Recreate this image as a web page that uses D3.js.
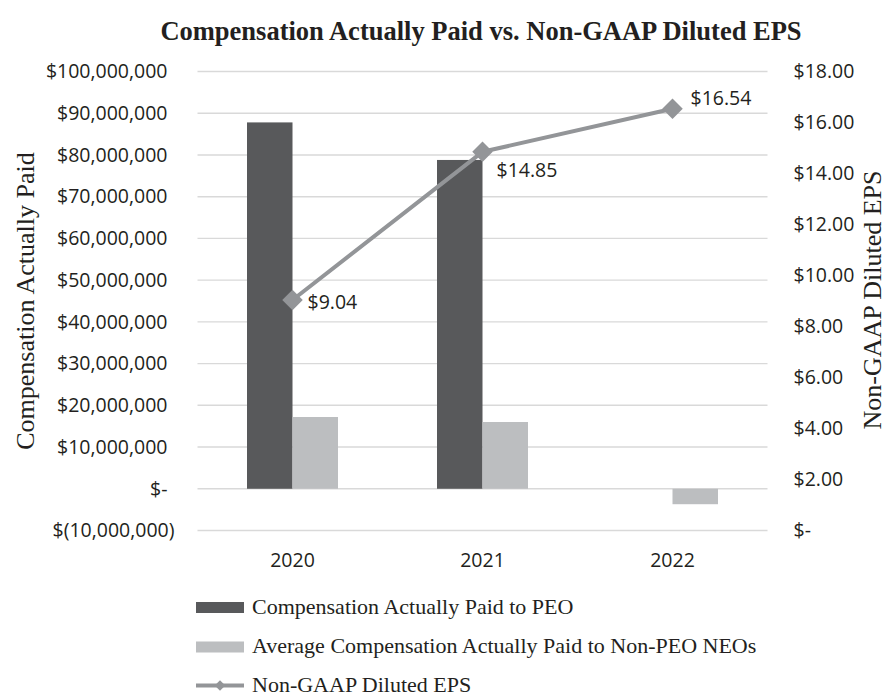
<!DOCTYPE html>
<html>
<head>
<meta charset="utf-8">
<script src="https://cdn.jsdelivr.net/npm/d3@7"></script>
<style>
  html, body { margin: 0; padding: 0; background: #ffffff; }
  svg { display: block; }
</style>
</head>
<body>
<svg id="chart" width="891" height="696"></svg>
<script>
// Fiscal years shown on the category axis
const years = ["2020", "2021", "2022"];
// Compensation actually paid (USD)
const peoPaid = [87800000, 78800000, null];
const neoPaid = [17200000, 16000000, -3700000];
// Non-GAAP diluted EPS (USD)
const eps = [9.04, 14.85, 16.54];
// Axis ticks
const leftTicks = [-10000000, 0, 10000000, 20000000, 30000000, 40000000, 50000000,
                   60000000, 70000000, 80000000, 90000000, 100000000];
const rightTicks = [0, 2, 4, 6, 8, 10, 12, 14, 16, 18];
// Series names for the legend
const seriesNames = ["Compensation Actually Paid to PEO",
                     "Average Compensation Actually Paid to Non-PEO NEOs",
                     "Non-GAAP Diluted EPS"];

const COL_PEO = "#58595b";
const COL_NEO = "#bcbec0";
const COL_EPS = "#939598";
const COL_TEXT = "#231f20";
const COL_GRID = "#d9d9d9";
const TICK_FONT = "'Open Sans', sans-serif";
const SERIF = "'Liberation Serif', 'Times New Roman', serif";

const svg = d3.select("#chart");

const plot = { left: 197.5, right: 767.5, top: 71.5, bottom: 530.5 };

const x = d3.scaleBand().domain(years).range([plot.left, plot.right]).padding(0);
const xSub = d3.scaleBand().domain(["peo", "neo"]).range([-45.5, 45.5]).padding(0);
const yL = d3.scaleLinear().domain([-10000000, 100000000]).range([plot.bottom, plot.top]);
const yR = d3.scaleLinear().domain([0, 18]).range([plot.bottom, plot.top]);

// Title
svg.append("text")
  .attr("x", 481).attr("y", 40)
  .attr("text-anchor", "middle")
  .attr("font-family", SERIF)
  .attr("font-weight", "bold")
  .attr("font-size", 26.5)
  .attr("fill", COL_TEXT)
  .text("Compensation Actually Paid vs. Non-GAAP Diluted EPS");

// Horizontal gridlines on the primary axis
svg.append("g")
  .selectAll("line")
  .data(leftTicks)
  .join("line")
  .attr("x1", plot.left).attr("x2", plot.right)
  .attr("y1", d => yL(d)).attr("y2", d => yL(d))
  .attr("stroke", COL_GRID)
  .attr("stroke-width", 1.4);

// Left axis (accounting style labels)
const fmtLeft = d => {
  if (d === 0) return "$-";
  const s = d3.format(",")(Math.abs(d));
  return d < 0 ? "$(" + s + ")" : "$" + s;
};
const gL = svg.append("g")
  .attr("transform", `translate(${plot.left},0)`)
  .call(d3.axisLeft(yL).tickValues(leftTicks).tickSize(0).tickPadding(30).tickFormat(fmtLeft));
gL.select(".domain").remove();
gL.selectAll("text")
  .attr("font-family", TICK_FONT)
  .attr("font-size", 19.5)
  .attr("fill", COL_TEXT)
  .attr("dx", d => d < 0 ? 7 : 0);

// Right axis
const fmtRight = d => d === 0 ? "$-" : "$" + d3.format(".2f")(d);
const gR = svg.append("g")
  .attr("transform", `translate(${plot.right},0)`)
  .call(d3.axisRight(yR).tickValues(rightTicks).tickSize(0).tickPadding(26).tickFormat(fmtRight));
gR.select(".domain").remove();
gR.selectAll("text")
  .attr("font-family", TICK_FONT)
  .attr("font-size", 19.5)
  .attr("fill", COL_TEXT);

// Category labels
svg.append("g")
  .selectAll("text")
  .data(years)
  .join("text")
  .attr("x", d => x(d) + x.bandwidth() / 2)
  .attr("y", 567)
  .attr("text-anchor", "middle")
  .attr("font-family", TICK_FONT)
  .attr("font-size", 19.5)
  .attr("fill", COL_TEXT)
  .text(d => d);

// Bars
const barData = [];
years.forEach((yr, i) => {
  if (peoPaid[i] !== null) barData.push({ yr, key: "peo", v: peoPaid[i] });
  if (neoPaid[i] !== null) barData.push({ yr, key: "neo", v: neoPaid[i] });
});
svg.append("g")
  .selectAll("rect")
  .data(barData)
  .join("rect")
  .attr("x", d => x(d.yr) + x.bandwidth() / 2 + xSub(d.key))
  .attr("width", xSub.bandwidth())
  .attr("y", d => Math.min(yL(d.v), yL(0)))
  .attr("height", d => Math.abs(yL(d.v) - yL(0)))
  .attr("fill", d => d.key === "peo" ? COL_PEO : COL_NEO);

// EPS line
const cx = (d, i) => x(years[i]) + x.bandwidth() / 2;
const linePts = eps.map((v, i) => [cx(v, i), yR(v)]);
svg.append("path")
  .attr("d", d3.line()(linePts))
  .attr("fill", "none")
  .attr("stroke", COL_EPS)
  .attr("stroke-width", 4)
  .attr("stroke-linejoin", "round");

const diamond = d3.symbol().type(d3.symbolSquare).size(210);
svg.append("g")
  .selectAll("path")
  .data(eps)
  .join("path")
  .attr("d", diamond)
  .attr("transform", (d, i) => `translate(${cx(d, i)},${yR(d)}) rotate(45)`)
  .attr("fill", COL_EPS);

// EPS value labels
const labelOffsets = [[15, 9], [14, 25], [18, -4]];
svg.append("g")
  .selectAll("text")
  .data(eps)
  .join("text")
  .attr("x", (d, i) => cx(d, i) + labelOffsets[i][0])
  .attr("y", (d, i) => yR(d) + labelOffsets[i][1])
  .attr("font-family", TICK_FONT)
  .attr("font-size", 19.5)
  .attr("fill", COL_TEXT)
  .text(d => "$" + d3.format(".2f")(d));

// Axis titles
svg.append("text")
  .attr("transform", "translate(34,301) rotate(-90)")
  .attr("text-anchor", "middle")
  .attr("font-family", SERIF)
  .attr("font-size", 26)
  .attr("fill", COL_TEXT)
  .text("Compensation Actually Paid");

svg.append("text")
  .attr("transform", "translate(881,300) rotate(-90)")
  .attr("text-anchor", "middle")
  .attr("font-family", SERIF)
  .attr("font-size", 26)
  .attr("fill", COL_TEXT)
  .text("Non-GAAP Diluted EPS");

// Legend
const legend = svg.append("g").attr("transform", "translate(196,0)");
const rowY = [607.5, 647, 685.5];
legend.selectAll("rect")
  .data([COL_PEO, COL_NEO])
  .join("rect")
  .attr("x", 0).attr("width", 48)
  .attr("y", (d, i) => rowY[i] - 5.5).attr("height", 11)
  .attr("fill", d => d);
legend.append("line")
  .attr("x1", 0).attr("x2", 48)
  .attr("y1", rowY[2]).attr("y2", rowY[2])
  .attr("stroke", COL_EPS).attr("stroke-width", 4);
legend.append("path")
  .attr("d", d3.symbol().type(d3.symbolSquare).size(55)())
  .attr("transform", `translate(24,${rowY[2]}) rotate(45)`)
  .attr("fill", COL_EPS);
legend.selectAll("text")
  .data(seriesNames)
  .join("text")
  .attr("x", 56)
  .attr("y", (d, i) => rowY[i] + 6)
  .attr("font-family", SERIF)
  .attr("font-size", 22)
  .attr("fill", COL_TEXT)
  .text(d => d);
</script>
</body>
</html>
